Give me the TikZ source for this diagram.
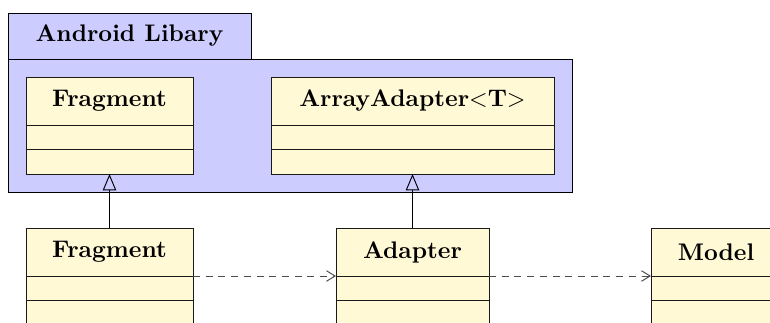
\documentclass[tikz,border=0pt]{standalone}
\usetikzlibrary{arrows.meta,calc,fit}
\definecolor{pkgfill}{RGB}{204,204,255}
\definecolor{classfill}{RGB}{255,249,214}
\tikzset{
  x=0.4167pt, y=-0.4167pt,
  pkgbox/.style={draw=black, fill=pkgfill, line width=0.4pt},
  classbox/.style={draw=black!90, fill=classfill, line width=0.4pt, inner sep=0pt, outer sep=0pt},
  classtitle/.style={font=\bfseries, inner sep=0pt},
  classline/.style={draw=black!90, line width=0.4pt},
  inherit/.style={draw=black, line width=0.4pt, -{Triangle[open,length=6.8pt,width=5.6pt]}},
  depend/.style={draw=black!70, line width=0.4pt, dash pattern=on 2.9pt off 2.4pt,
                 -{Straight Barb[length=3.6pt,width=4.4pt]}},
}
% UML class with three compartments: name, left, top, right, title
\newcommand\umlclass[5]{%
  \node[classbox, fit={(#2,#3) (#4,#3+97)}] (#1) {};
  \node[classtitle] (#1-t) at ($(#1.north)+(0,24)$) {#5};
  \coordinate (#1-l) at ($(#1.north west)+(0,48)$);
  \coordinate (#1-r) at ($(#1.north east)+(0,48)$);
  \draw[classline] (#1-l) -- (#1-r);
  \draw[classline] ($(#1.north west)+(0,72)$) -- ($(#1.north east)+(0,72)$);
}
\begin{document}
\begin{tikzpicture}
  \useasboundingbox (0,0) rectangle (770,322);
  \clip (0,0) rectangle (770,322);

  % package "Android Libary"
  \node[pkgbox, inner sep=0pt, fit={(8,13) (251,59)}] (pkgtab) {};
  \node[classtitle] (pkgname) at (pkgtab.center) {Android Libary};
  \node[pkgbox, inner sep=0pt, fit={(8,59) (572,192)}] (pkgbody) {};

  % library classes
  \umlclass{libfrag}{26}{77}{193}{Fragment}
  \umlclass{libarr}{271}{77}{554}{ArrayAdapter$<$T$>$}

  % application classes
  \umlclass{frag}{26}{228}{193}{Fragment}
  \umlclass{adapt}{336}{228}{489}{Adapter}
  \umlclass{model}{651}{228}{781}{Model}

  % generalisations
  \draw[inherit] (frag.north) -- (libfrag.south);
  \draw[inherit] (adapt.north) -- (libarr.south);

  % dependencies
  \draw[depend] (frag-r) -- (adapt-l);
  \draw[depend] (adapt-r) -- (model-l);
\end{tikzpicture}
\end{document}
